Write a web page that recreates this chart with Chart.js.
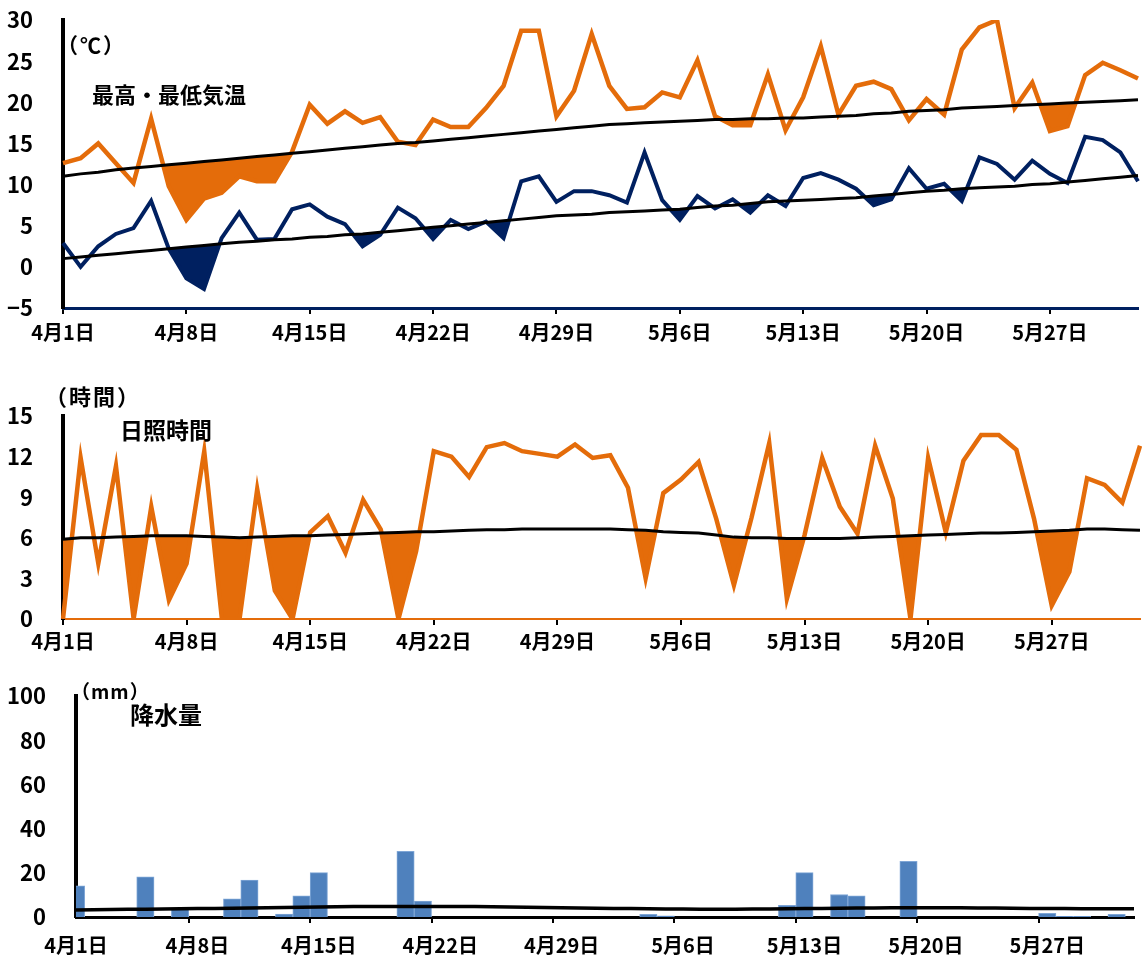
<!DOCTYPE html>
<html lang="ja">
<head>
<meta charset="utf-8">
<title>最高・最低気温 / 日照時間 / 降水量</title>
<script src="https://cdn.jsdelivr.net/npm/chart.js@4.4.1/dist/chart.umd.min.js"></script>
<style>
  body { margin: 0; background: #fff; }
  #page { position: relative; width: 1144px; height: 958px; overflow: hidden;
          font-family: "Noto Sans CJK JP", sans-serif; font-weight: bold; }
  #page canvas { position: absolute; left: 0; }
  .lbl { position: absolute; white-space: nowrap; color: #000; line-height: 1; }
</style>
</head>
<body>
<div id="page">
  <canvas id="tempChart" width="1144" height="350" style="top:0px"></canvas>
  <canvas id="sunChart" width="1144" height="270" style="top:396px"></canvas>
  <canvas id="rainChart" width="1144" height="282" style="top:676px"></canvas>

  <div class="lbl" style="left:57px;top:34px;font-size:21px;letter-spacing:2px">（℃）</div>
  <div class="lbl" style="left:92px;top:82px;font-size:22px">最高・最低気温</div>
  <div class="lbl" style="left:45px;top:384px;font-size:22px;letter-spacing:2px">（時間）</div>
  <div class="lbl" style="left:120px;top:418px;font-size:23px">日照時間</div>
  <div class="lbl" style="left:71px;top:681px;font-size:19px;letter-spacing:1px">（mm）</div>
  <div class="lbl" style="left:130px;top:702px;font-size:24px">降水量</div>
</div>

<script>
// 4月1日 .. 6月1日, one entry per day
const days = []
for (let d = 1; d <= 30; d++) days.push('4月' + d + '日')
for (let d = 1; d <= 31; d++) days.push('5月' + d + '日')
days.push('6月1日')

const tickDays = ['4月1日', '4月8日', '4月15日', '4月22日', '4月29日',
                  '5月6日', '5月13日', '5月20日', '5月27日']

// 最高気温 / 最低気温 (℃)
const maxTemp = [12.6, 13.2, 15.0, 12.6, 10.2, 18.0, 9.8, 5.7, 8.3, 9.0,
                 11.0, 10.4, 10.4, 14.0, 19.7, 17.4, 18.9, 17.5, 18.2, 15.2,
                 14.8, 17.9, 17.0, 17.0, 19.3, 22.0, 28.7, 28.7, 18.3, 21.4,
                 28.3, 22.0, 19.2, 19.4, 21.2, 20.6, 25.1, 18.3, 17.2, 17.2,
                 23.4, 16.6, 20.6, 26.8, 18.5, 22.0, 22.5, 21.6, 17.8, 20.4,
                 18.5, 26.4, 29.1, 30.0, 19.3, 22.4, 16.5, 17.1, 23.3, 24.8,
                 23.9, 22.9]
const minTemp = [2.9, 0.0, 2.5, 4.0, 4.7, 8.0, 2.2, -1.4, -2.7, 3.5,
                 6.6, 3.3, 3.4, 7.0, 7.6, 6.1, 5.2, 2.5, 3.9, 7.2,
                 5.9, 3.4, 5.7, 4.6, 5.5, 3.5, 10.4, 11.0, 7.9, 9.2,
                 9.2, 8.7, 7.8, 13.9, 8.1, 5.7, 8.6, 7.1, 8.2, 6.6,
                 8.7, 7.4, 10.8, 11.4, 10.6, 9.5, 7.5, 8.2, 12.0, 9.5,
                 10.1, 8.0, 13.3, 12.5, 10.6, 12.9, 11.3, 10.2, 15.8, 15.4,
                 13.9, 10.4]
// 平年値
const maxNormal = [11.0, 11.3, 11.5, 11.8, 12.0, 12.2, 12.4, 12.6, 12.8, 13.0,
                   13.2, 13.4, 13.6, 13.8, 14.0, 14.2, 14.4, 14.6, 14.8, 15.0,
                   15.1, 15.3, 15.5, 15.7, 15.9, 16.1, 16.3, 16.5, 16.7, 16.9,
                   17.1, 17.3, 17.4, 17.5, 17.6, 17.7, 17.8, 17.9, 17.9, 18.0,
                   18.0, 18.1, 18.1, 18.2, 18.3, 18.4, 18.6, 18.7, 18.9, 19.0,
                   19.1, 19.3, 19.4, 19.5, 19.6, 19.7, 19.8, 19.9, 20.0, 20.1,
                   20.2, 20.3]
const minNormal = [1.0, 1.2, 1.4, 1.6, 1.8, 2.0, 2.2, 2.4, 2.6, 2.8,
                   3.0, 3.1, 3.3, 3.4, 3.6, 3.7, 3.9, 4.0, 4.2, 4.4,
                   4.6, 4.8, 5.0, 5.2, 5.4, 5.6, 5.8, 6.0, 6.2, 6.3,
                   6.4, 6.6, 6.7, 6.8, 6.9, 7.0, 7.2, 7.4, 7.5, 7.7,
                   7.9, 8.0, 8.1, 8.2, 8.3, 8.4, 8.6, 8.8, 9.0, 9.2,
                   9.3, 9.5, 9.6, 9.7, 9.8, 10.0, 10.1, 10.3, 10.5, 10.7,
                   10.9, 11.1]

// 日照時間 (時間)
const sunshine = [0, 11.9, 4.1, 11.3, 0, 8.3, 1.4, 4.1, 12.4, 0,
                  0, 9.6, 2.1, 0, 6.4, 7.6, 4.9, 8.8, 6.6, 0,
                  5.0, 12.4, 12.0, 10.5, 12.7, 13.0, 12.4, 12.2, 12.0, 12.9,
                  11.9, 12.1, 9.7, 3.0, 9.3, 10.3, 11.6, 7.4, 2.5, 7.5,
                  13.0, 1.5, 6.2, 11.9, 8.3, 6.3, 12.8, 8.9, 0, 11.9,
                  6.4, 11.7, 13.6, 13.6, 12.5, 7.4, 1.0, 3.5, 10.4, 9.9,
                  8.6, 12.8]
const sunNormal = [5.9, 6.0, 6.0, 6.05, 6.1, 6.15, 6.15, 6.15, 6.1, 6.05,
                   6.0, 6.05, 6.1, 6.15, 6.15, 6.2, 6.25, 6.3, 6.35, 6.4,
                   6.45, 6.45, 6.5, 6.55, 6.6, 6.6, 6.65, 6.65, 6.65, 6.65,
                   6.65, 6.65, 6.6, 6.55, 6.45, 6.4, 6.35, 6.2, 6.05, 6.0,
                   6.0, 5.95, 5.95, 5.95, 5.95, 6.0, 6.05, 6.1, 6.15, 6.2,
                   6.25, 6.3, 6.35, 6.35, 6.4, 6.45, 6.5, 6.55, 6.65, 6.65,
                   6.6, 6.55]

// 降水量 (mm)
const rain = [14.1, 0, 0, 0, 18.2, 0, 3.5, 0, 0, 8.2,
              16.7, 0, 1.3, 9.6, 20.1, 0, 0, 0, 0, 29.7,
              7.2, 0, 0, 0, 0, 0, 0, 0, 0, 0,
              0, 0, 0, 1.2, 0.5, 0, 0, 0, 0, 0,
              0, 5.3, 20.1, 0, 10.2, 9.6, 0, 0, 25.2, 0,
              0, 0, 0, 0, 0, 0, 1.7, 0.3, 0.3, 0,
              1.2, null]
const rainNormal = [3.2, 3.3, 3.4, 3.5, 3.5, 3.6, 3.7, 3.8, 3.9, 4.0,
                    4.1, 4.2, 4.3, 4.4, 4.5, 4.6, 4.7, 4.7, 4.8, 4.8,
                    4.8, 4.8, 4.8, 4.7, 4.6, 4.5, 4.4, 4.3, 4.2, 4.1,
                    4.0, 3.9, 3.8, 3.7, 3.6, 3.6, 3.5, 3.5, 3.5, 3.6,
                    3.6, 3.7, 3.8, 3.9, 4.0, 4.1, 4.1, 4.2, 4.2, 4.2,
                    4.2, 4.2, 4.1, 4.1, 4.0, 3.9, 3.8, 3.8, 3.7, 3.7,
                    3.7, 3.7]

// days (index into days[]) whose below-normal area is shaded
const maxShadeDays = [6, 7, 8, 9, 10, 11, 12, 38, 39, 56, 57]
const minShadeDays = [6, 7, 8, 17, 18, 21, 25, 35, 39, 46, 47, 51]
const sunShadeDays = [0, 4, 6, 7, 9, 10, 12, 13, 19, 20, 33, 38, 41, 48, 56, 57]

const ORANGE = '#E46C0A'
const NAVY = '#002060'
const BLUE = '#4F81BD'
const FONT = 'Noto Sans CJK JP'

// keep the values only around shaded days so the fill stops elsewhere
function shadeSeries(values, shadeDays) {
    return values.map((v, i) =>
        shadeDays.includes(i) || shadeDays.includes(i - 1) || shadeDays.includes(i + 1) ? v : null)
}

function dayAxis(borderColor, borderWidth, height, pad) {
    return {
        type: 'category',
        offset: false,
        grid: {
            drawOnChartArea: false,
            drawTicks: true,
            tickLength: 6,
            lineWidth: 2,
            color: c => tickDays.includes(days[c.index]) ? '#000' : 'rgba(0,0,0,0)'
        },
        border: { color: borderColor, width: borderWidth },
        ticks: {
            autoSkip: false,
            maxRotation: 0,
            padding: pad,
            color: '#000',
            font: { family: FONT, size: 20, weight: 'bold' },
            callback: (v, i) => tickDays.includes(days[i]) ? days[i] : ''
        },
        afterFit: s => { s.height = height }
    }
}

function valueAxis(min, max, step, width) {
    return {
        min: min,
        max: max,
        grid: { display: false, drawTicks: false },
        border: { color: '#000', width: 4 },
        ticks: {
            stepSize: step,
            padding: 30,
            color: '#000',
            font: { family: FONT, size: 22, weight: 'bold' },
            callback: v => v < 0 ? '−' + Math.abs(v) : v
        },
        // fixed axis width; the tick padding must not push the plot area down
        afterFit: s => {
            s.width = width
            s.paddingTop = 0
            s.paddingBottom = 0
        }
    }
}

function lineSet(data, color, width, order) {
    return { data: data, borderColor: color, borderWidth: width, pointRadius: 0,
             fill: false, tension: 0, order: order }
}

function shadeSet(data, target, color) {
    return { data: data, borderWidth: 0, borderColor: 'rgba(0,0,0,0)', pointRadius: 0,
             spanGaps: false, order: 5,
             fill: { target: target, above: 'rgba(0,0,0,0)', below: color } }
}

const baseOptions = {
    responsive: false,
    animation: false,
    events: [],
    layout: { padding: { top: 20, left: 0, right: 0, bottom: 0 } },
    plugins: { legend: { display: false }, tooltip: { enabled: false } }
}

new Chart(document.getElementById('tempChart'), {
    type: 'line',
    data: {
        labels: days,
        datasets: [
            lineSet(maxNormal, '#000', 3, 0),
            lineSet(minNormal, '#000', 3, 0),
            lineSet(maxTemp, ORANGE, 4.5, 1),
            lineSet(minTemp, NAVY, 4, 1),
            shadeSet(shadeSeries(maxTemp, maxShadeDays), 0, ORANGE),
            shadeSet(shadeSeries(minTemp, minShadeDays), 1, NAVY)
        ]
    },
    options: {
        ...baseOptions,
        scales: {
            x: dayAxis(NAVY, 3, 42, 6),
            y: valueAxis(-5, 30, 5, 63)
        }
    }
})

new Chart(document.getElementById('sunChart'), {
    type: 'line',
    data: {
        labels: days,
        datasets: [
            lineSet(sunNormal, '#000', 3, 0),
            lineSet(sunshine, ORANGE, 4.5, 1),
            shadeSet(shadeSeries(sunshine, sunShadeDays), 0, ORANGE)
        ]
    },
    options: {
        ...baseOptions,
        scales: {
            x: dayAxis(ORANGE, 2, 47, 4),
            y: valueAxis(0, 15, 3, 63)
        }
    }
})

new Chart(document.getElementById('rainChart'), {
    type: 'bar',
    data: {
        labels: days,
        datasets: [
            { type: 'line', data: rainNormal, borderColor: '#000', borderWidth: 3.5,
              pointRadius: 0, fill: false, order: 0 },
            { type: 'bar', data: rain, backgroundColor: BLUE, borderColor: '#7FA6D6',
              borderWidth: 1, barPercentage: 1, categoryPercentage: 1, clip: 0, order: 1 }
        ]
    },
    options: {
        ...baseOptions,
        scales: {
            x: dayAxis('#000', 3, 41, 10),
            y: valueAxis(0, 100, 20, 76)
        }
    }
})
</script>
</body>
</html>
